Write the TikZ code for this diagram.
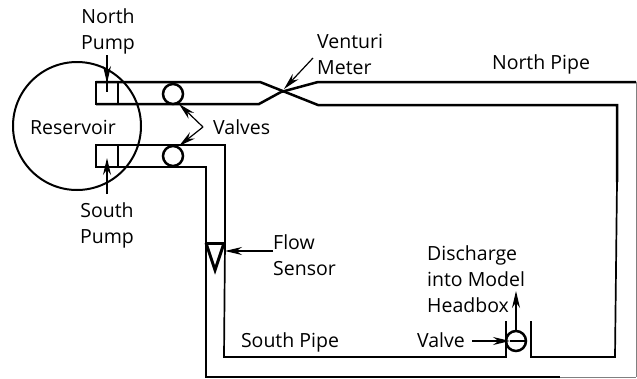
\documentclass[tikz,border=0pt]{standalone}
\usepackage{fontspec}
\setmainfont{Open Sans}
\usetikzlibrary{arrows.meta}
\tikzset{
  pipe/.style={line width=2.5pt,line join=miter},
  thinpipe/.style={line width=1.7pt},
  pointer/.style={line width=1.2pt,-{Stealth[length=17pt,width=8pt]}},
  lbl/.style={font=\fontsize{19.5}{26}\selectfont,align=left,inner sep=0pt},
  lblc/.style={lbl,align=center}
}
\begin{document}
\begin{tikzpicture}[x=1pt,y=-1pt]
  \useasboundingbox (0,0) rectangle (637,378);
  % reservoir and pumps
  \draw[line width=2pt] (77,126) circle (64);
  \foreach \y in {82,145} \draw[pipe] (118,\y) rectangle (96,\y+22);
  % north pipe
  \draw[pipe] (96,82) -- (260,82) -- (318,105) -- (617,105) -- (617,182);
  \draw[thinpipe] (617,182) -- (615,357) -- (531,357) -- (531,321);
  \draw[pipe] (96,104) -- (259,104) -- (281,92) -- (318,82) -- (636,82);
  \draw[line width=0.5pt,gray] (636,82) -- (636,377);
  % south pipe
  \draw[pipe] (96,145) -- (225,145) -- (225,243);
  \draw[thinpipe] (225,243) -- (224,357) -- (380,357);
  \draw[pipe] (380,357) -- (506,357) -- (506,321);
  \draw[pipe] (96,167) -- (206,167) -- (206,243);
  \draw[thinpipe] (206,243) -- (206,377) -- (560,377);
  \draw[line width=0.7pt,gray] (560,377) -- (636,377);
  % valves
  \foreach \x/\y in {173/94,173/156,516/341} \draw[pipe,fill=white] (\x,\y) circle (10);
  % flow sensor
  \draw[line width=3pt] (206,243) -- (224,243);
  \draw[line width=3pt] (206,243) -- (215,270) -- (224,243);
  % labels
  \node[lblc] (northpump) at (108,31) {North\\Pump};
  \node[lblc] (southpump) at (107,225) {South\\Pump};
  \node[lbl] (reservoir) at (73,127) {Reservoir};
  \node[lbl,anchor=west] (valves) at (213,127) {Valves};
  \node[lbl,anchor=west] (venturi) at (317,54) {Venturi\\Meter};
  \node[lbl] (northpipe) at (541,64) {North Pipe};
  \node[lbl,anchor=west] (flow) at (273,255) {Flow\\Sensor};
  \node[lbl] (southpipe) at (290,342) {South Pipe};
  \node[lbl,anchor=east] (valve) at (465,340) {Valve};
  \node[lbl,anchor=west] (discharge) at (427,279) {Discharge\\into Model\\Headbox};
  % pointers
  \coordinate (chevron) at (203,127);
  \draw[line width=1.2pt] (107,55) -- (107,92);
  \draw[pointer] (107,55) -- (107,83);
  \draw[pointer] (107,194) -- (107,158);
  \draw[pointer] (chevron) -- (179,104);
  \draw[pointer] (chevron) -- (179,146);
  \draw[pointer] (313,58) -- (284,89);
  \draw[pointer] (273,251) -- (225,251);
  \draw[pointer] (472,341) -- (510,341);
  \draw[line width=1.2pt] (510,341) -- (526,341);
  \draw[pointer] (516,331) -- (516,291);
\end{tikzpicture}
\end{document}
